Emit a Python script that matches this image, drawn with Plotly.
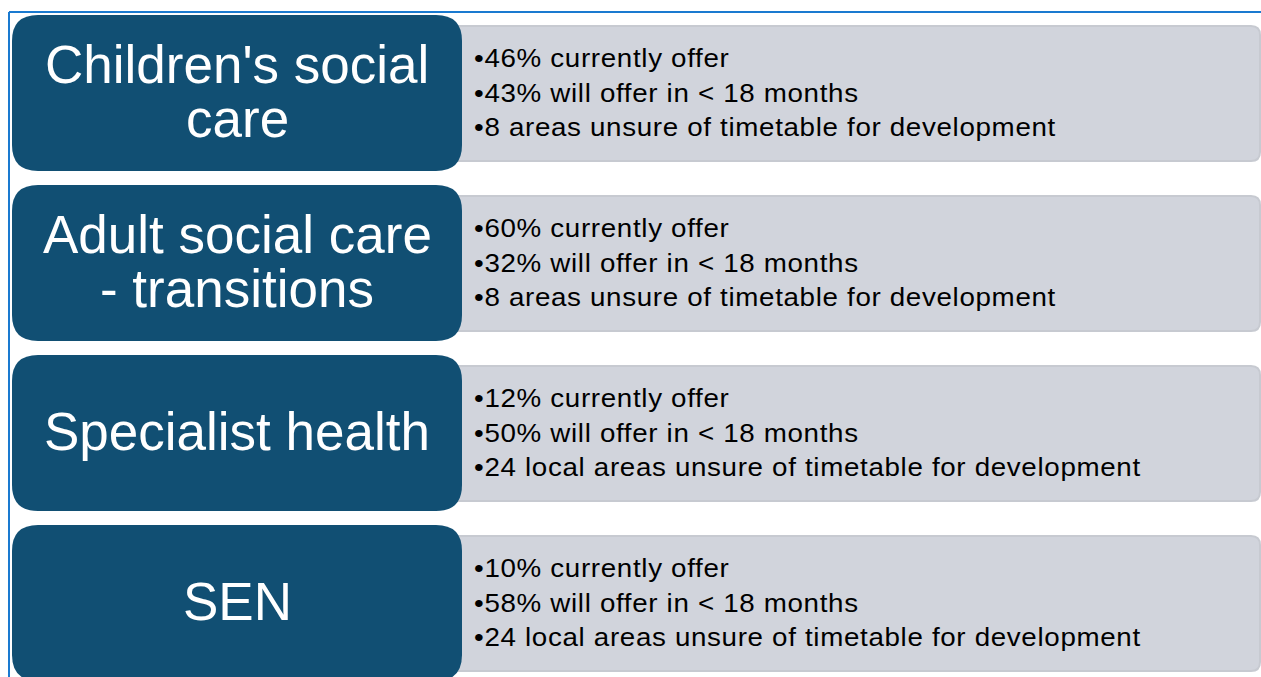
import plotly.graph_objects as go

# ---- data ----
categories = [
    ["Children's social", "care"],
    ["Adult social care", "- transitions"],
    ["Specialist health"],
    ["SEN"],
]
currently_offer = [46, 60, 12, 10]          # % currently offer
offer_18_months = [43, 32, 50, 58]          # % will offer in < 18 months
unsure_areas = [8, 8, 24, 24]               # areas unsure of timetable
unsure_labels = ["areas", "areas", "local areas", "local areas"]

W, H = 1261, 677
BLUE = "#114f73"
GRAY = "#d1d4dc"
GRAY_EDGE = "#c7cad1"
FRAME = "#1a7ad0"


def rounded_path(x0, y0, x1, y1, r_tl, r_tr, r_br, r_bl):
    # y axis is reversed (y grows downward)
    p = f"M {x0 + r_tl},{y0} L {x1 - r_tr},{y0} "
    p += f"Q {x1},{y0} {x1},{y0 + r_tr} " if r_tr else ""
    p += f"L {x1},{y1 - r_br} "
    p += f"Q {x1},{y1} {x1 - r_br},{y1} " if r_br else ""
    p += f"L {x0 + r_bl},{y1} "
    p += f"Q {x0},{y1} {x0},{y1 - r_bl} " if r_bl else ""
    p += f"L {x0},{y0 + r_tl} "
    p += f"Q {x0},{y0} {x0 + r_tl},{y0} " if r_tl else ""
    return p + "Z"


fig = go.Figure()
shapes = []
annotations = []

# frame lines
shapes.append(dict(type="line", x0=9, y0=12, x1=W, y1=12,
                   line=dict(color=FRAME, width=2), layer="below"))
shapes.append(dict(type="line", x0=9, y0=12, x1=9, y1=H,
                   line=dict(color=FRAME, width=2), layer="below"))

pitch = 170
for i, cat in enumerate(categories):
    top = 15 + i * pitch
    # gray info box
    gt = top + 11
    shapes.append(dict(type="path",
                       path=rounded_path(458, gt, 1260, gt + 135, 0, 9, 9, 0),
                       fillcolor=GRAY, line=dict(color=GRAY_EDGE, width=2),
                       layer="below"))
    # blue title box
    shapes.append(dict(type="path",
                       path=rounded_path(12, top, 462, top + 156, 26, 26, 26, 26),
                       fillcolor=BLUE, line=dict(width=0), layer="below"))
    # title text
    cy = top + 76
    n = len(cat)
    lh = 54
    for j, line in enumerate(cat):
        y = cy + (j - (n - 1) / 2) * lh
        annotations.append(dict(x=237, y=y, xref="x", yref="y", text=line,
                                showarrow=False, xanchor="center", yanchor="middle",
                                font=dict(family="Liberation Sans, Arial", size=53,
                                          color="white")))
    # bullet text
    lines = [
        f"•{currently_offer[i]}% currently offer",
        f"•{offer_18_months[i]}% will offer in &lt; 18 months",
        f"•{unsure_areas[i]} {unsure_labels[i]} unsure of timetable for development",
    ]
    for j, line in enumerate(lines):
        y = top + 43 + j * 34.5
        annotations.append(dict(x=472, y=y, xref="x", yref="y", text=line,
                                showarrow=False, xanchor="left", yanchor="middle",
                                font=dict(family="Liberation Sans, Arial", size=25,
                                          color="black")))

fig.update_layout(
    width=W, height=H, autosize=False,
    margin=dict(l=0, r=0, t=0, b=0, pad=0),
    paper_bgcolor="white", plot_bgcolor="white",
    xaxis=dict(range=[0, W], visible=False, fixedrange=True),
    yaxis=dict(range=[H, 0], visible=False, fixedrange=True),
    shapes=shapes, annotations=annotations, showlegend=False,
)

post = """
document.body.style.margin='0';
document.body.style.overflow='hidden';
document.querySelectorAll('text.annotation-text').forEach(function(t){
  if (t.textContent.charAt(0) === '\u2022') {
    var b0 = t.getBBox();
    t.style.letterSpacing = '0.6px';
    var b1 = t.getBBox();
    t.setAttribute('transform', 'translate(' + b0.x + ',0) scale(1.11,1) translate(' + (-b1.x) + ',0)');
  }
});
"""

fig.write_html("out.html", config={"displayModeBar": False}, post_script=post)
